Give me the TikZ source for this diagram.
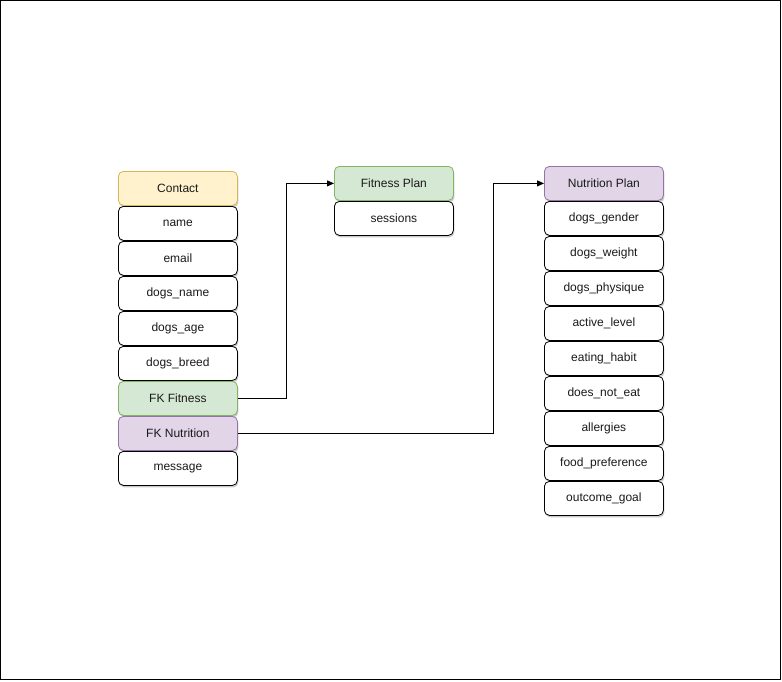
\documentclass[tikz,border=0pt]{standalone}
\usepackage{fontspec}
\setmainfont{Liberation Sans}
\usetikzlibrary{arrows.meta,shadows}
\definecolor{yfill}{HTML}{FFF2CC}
\definecolor{ydraw}{HTML}{D6B656}
\definecolor{gfill}{HTML}{D5E8D4}
\definecolor{gdraw}{HTML}{82B366}
\definecolor{pfill}{HTML}{E1D5E7}
\definecolor{pdraw}{HTML}{9673A6}
\definecolor{txt}{HTML}{1A1A1A}
\tikzset{
  field/.style={draw=black, fill=white, rounded corners=5pt, line width=0.8pt,
    minimum width=119pt, minimum height=34pt, inner sep=0pt, anchor=north west,
    font=\fontsize{12pt}{14pt}\selectfont, text=txt,
    drop shadow={shadow xshift=1pt, shadow yshift=-2pt, fill=black!35, opacity=0.6}},
  ghead/.style={field, fill=gfill, draw=gdraw},
  phead/.style={field, fill=pfill, draw=pdraw},
  link/.style={draw=black, line width=0.8pt, line join=miter,
    -{Triangle[length=7pt,width=6pt]}}
}
\begin{document}
\begin{tikzpicture}[x=1pt,y=-1pt]
\useasboundingbox (0,0) rectangle (782,681);
\draw[line width=1.2pt] (0.6,0.6) rectangle (780.4,679.4);

% Contact table
\node[field, fill=yfill, draw=ydraw] (contact) at (118,171) {Contact};
\node[field] (name) at (118,206) {name};
\node[field] (email) at (118,241) {email};
\node[field] (dname) at (118,276) {dogs\_name};
\node[field] (dage) at (118,311) {dogs\_age};
\node[field] (dbreed) at (118,346) {dogs\_breed};
\node[ghead] (fkfit) at (118,381) {FK Fitness};
\node[phead] (fknut) at (118,416) {FK Nutrition};
\node[field] (msg) at (118,451) {message};

% Fitness Plan table
\node[ghead] (fit) at (334,166) {Fitness Plan};
\node[field] (sess) at (334,201) {sessions};

% Nutrition Plan table
\node[phead] (nut) at (544,166) {Nutrition Plan};
\node[field] (gender) at (544,201) {dogs\_gender};
\node[field] (weight) at (544,236) {dogs\_weight};
\node[field] (physique) at (544,271) {dogs\_physique};
\node[field] (active) at (544,306) {active\_level};
\node[field] (eating) at (544,341) {eating\_habit};
\node[field] (noteat) at (544,376) {does\_not\_eat};
\node[field] (allerg) at (544,411) {allergies};
\node[field] (food) at (544,446) {food\_preference};
\node[field] (goal) at (544,481) {outcome\_goal};

% Foreign key links
\draw[link] (fkfit.east) -- ++(49,0) |- (fit.west);
\draw[link] (fknut.east) -- ++(256,0) |- (nut.west);
\end{tikzpicture}
\end{document}
